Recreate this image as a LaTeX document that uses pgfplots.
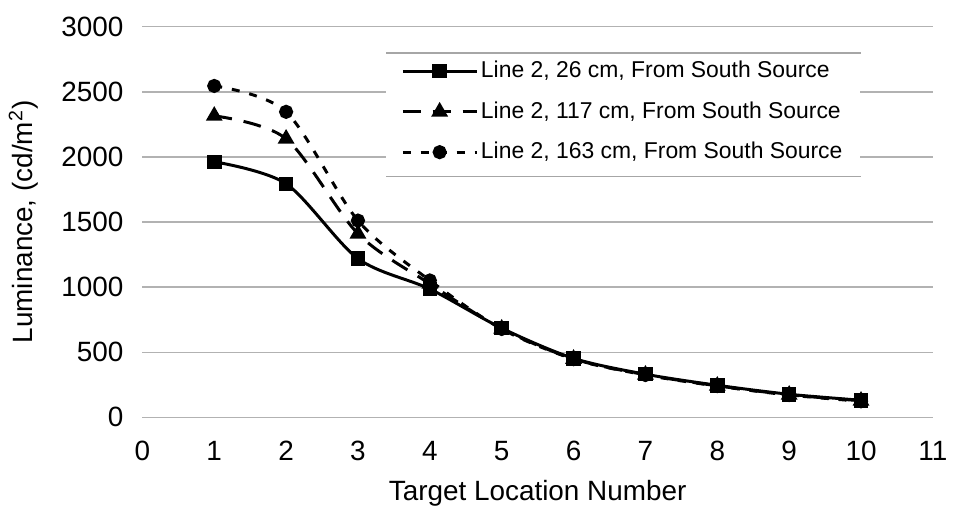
\documentclass[border=0pt]{standalone}
\usepackage{pgfplots}
\pgfplotsset{compat=1.18}
\usepackage{fontspec}
\setmainfont{Liberation Sans}
\begin{document}
\begin{tikzpicture}
\begin{axis}[
	scale only axis,
	width=397pt, height=196pt,
	xmin=0, xmax=11, ymin=0, ymax=3000,
	xtick={0,...,11}, ytick={0,500,...,3000},
	ymajorgrids, grid style={gray!60, line width=0.6pt},
	axis line style={draw=none},
	major tick style={draw=none},
	/pgf/number format/assume math mode=true,
	/pgf/number format/1000 sep={},
	tick label style={font=\fontsize{14}{16}\selectfont},
	label style={font=\fontsize{14}{16}\selectfont},
	xticklabel style={anchor=base, yshift=-22pt},
	yticklabel style={xshift=-6pt},
	xlabel={Target Location Number},
	ylabel={Luminance, (cd/m\textsuperscript{2})},
	xlabel style={at={([yshift=-42pt]rel axis cs:0.5,0)}, anchor=base},
	ylabel style={at={([xshift=-55pt]rel axis cs:0,0.5)}, anchor=base},
	clip=false,
	legend style={name=leg, at={(axis cs:3.39,2799)}, anchor=north west,
		draw=none, fill=white, font=\fontsize{11.5}{13}\selectfont,
		row sep=6.5pt, inner xsep=7.5pt, inner ysep=2pt,
		nodes={inner xsep=1.5pt}},
	legend cell align=left,
	legend image code/.code={
		\draw[mark repeat=2,mark phase=2] plot coordinates {(0pt,0pt) (18.5pt,0pt) (37pt,0pt)};},
	every axis plot/.append style={black, line width=1.5pt, smooth, tension=0.5},
]
\addplot[mark=square*, mark size=2.9pt] coordinates {
	(1,1963) (2,1794) (3,1219) (4,985) (5,684) (6,452) (7,330) (8,245) (9,176) (10,130)
};
\addplot[mark=triangle*, mark size=3.4pt, dash pattern=on 9pt off 6pt, mark options={solid}] coordinates {
	(1,2316) (2,2140) (3,1410) (4,1025) (5,680) (6,448) (7,326) (8,241) (9,172) (10,126)
};
\addplot[mark=*, mark size=2.8pt, dash pattern=on 4pt off 5pt, mark options={solid}] coordinates {
	(1,2546) (2,2347) (3,1511) (4,1051) (5,678) (6,446) (7,324) (8,239) (9,170) (10,122)
};
\legend{{Line 2, 26 cm, From South Source\hspace*{4pt}}, {Line 2, 117 cm, From South Source}, {Line 2, 163 cm, From South Source}}
\path ([xshift=-71.5pt,yshift=-49.5pt]rel axis cs:0,0) rectangle ([xshift=8.5pt,yshift=13.5pt]rel axis cs:1,1);
\end{axis}
\draw[gray!70, line width=0.6pt] (leg.north west) -- (leg.north east);
\draw[gray!70, line width=0.6pt] ([yshift=-3pt]leg.south west) -- ([yshift=-3pt]leg.south east);
\end{tikzpicture}
\end{document}
